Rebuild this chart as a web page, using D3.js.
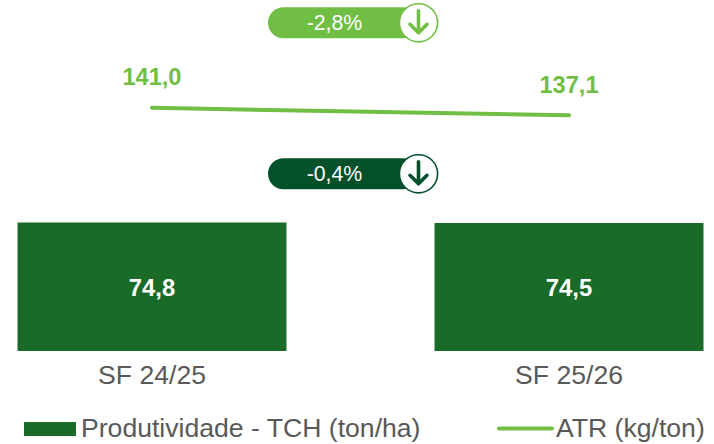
<!DOCTYPE html>
<html><head><meta charset="utf-8">
<script src="https://cdnjs.cloudflare.com/ajax/libs/d3/7.8.5/d3.min.js"></script>
<style>html,body{margin:0;padding:0;background:#fff}svg{display:block}text{font-family:"Liberation Sans",Arial,sans-serif}</style>
</head><body><svg id="c" width="714" height="444"></svg>
<script>
const categories = ["SF 24/25", "SF 25/26"];
const tch = [74.8, 74.5];
const atr = [141.0, 137.1];
const pills = [{label:"-2,8%", color:"#70BF44", cy:22.8}, {label:"-0,4%", color:"#03502B", cy:173.8}];
const legendLabels = ["Produtividade - TCH (ton/ha)", "ATR (kg/ton)"];
const fmt = v => v.toFixed(1).replace(".", ",");

const svg = d3.select("#c");
const x = d3.scaleBand().domain(categories).range([17.5, 703.5]).paddingInner(0.355).paddingOuter(0);
const yBar = d3.scaleLinear().domain([0, 74.8]).range([351, 222.5]);
const yLine = d3.scaleLinear().domain([137.1, 141]).range([115.3, 107.8]);
const cx = c => x(c) + x.bandwidth() / 2;
const dark = "#1A6B27", light = "#70BF44", grey = "#595959";

svg.selectAll("rect.bar").data(categories).join("rect").attr("class","bar")
  .attr("x", d => x(d)).attr("width", x.bandwidth())
  .attr("y", (d,i) => yBar(tch[i])).attr("height", (d,i) => yBar(0) - yBar(tch[i])).attr("fill", dark);
svg.selectAll("text.barv").data(categories).join("text").attr("class","barv")
  .attr("x", cx).attr("y", 296).attr("text-anchor","middle").attr("font-size",23.8).attr("font-weight","bold").attr("fill","#fff")
  .text((d,i) => fmt(tch[i]));

const axis = d3.axisBottom(x).tickSize(0).tickPadding(0);
const gx = svg.append("g").attr("transform","translate(0,351)").call(axis);
gx.select(".domain").remove();
gx.selectAll("text").attr("y",33).attr("dy",0).attr("font-size",26.6).attr("fill",grey).style("font-family",'"Liberation Sans",Arial,sans-serif');

const line = d3.line().x((d,i) => cx(categories[i])).y(d => yLine(d));
svg.append("path").attr("d", line(atr)).attr("fill","none").attr("stroke",light).attr("stroke-width",4).attr("stroke-linecap","round");
svg.selectAll("text.atr").data(categories).join("text").attr("class","atr")
  .attr("x", d => cx(d)).attr("y", (d,i) => i ? 92.5 : 85)
  .attr("text-anchor","middle").attr("font-size",23.6).attr("font-weight","bold").attr("fill",light)
  .text((d,i) => fmt(atr[i]));

pills.forEach(p => {
  const g = svg.append("g");
  g.append("rect").attr("x",268).attr("y",p.cy-15.5).attr("width",150).attr("height",31).attr("rx",15.5).attr("fill",p.color);
  g.append("text").attr("x",334.5).attr("y",p.cy+7.5).attr("text-anchor","middle").attr("font-size",21.3).attr("fill","#fff").text(p.label);
  g.append("circle").attr("cx",418.5).attr("cy",p.cy).attr("r",19.1).attr("fill","#fff").attr("stroke",p.color).attr("stroke-width",1.6);
  g.append("path").attr("d",`M418.5,${p.cy-12}V${p.cy+10}M410,${p.cy+1.5}L418.5,${p.cy+10}L427,${p.cy+1.5}`)
    .attr("fill","none").attr("stroke",p.color).attr("stroke-width",3.6).attr("stroke-linecap","round").attr("stroke-linejoin","round");
});

svg.append("rect").attr("x",24).attr("y",422).attr("width",52).attr("height",14).attr("fill",dark);
svg.append("text").attr("x",81).attr("y",437).attr("font-size",26.6).attr("fill",grey).text(legendLabels[0]);
svg.append("line").attr("x1",499).attr("x2",552).attr("y1",428.5).attr("y2",428.5).attr("stroke",light).attr("stroke-width",4).attr("stroke-linecap","round");
svg.append("text").attr("x",556).attr("y",437).attr("font-size",26.6).attr("fill",grey).text(legendLabels[1]);
</script></body></html>
